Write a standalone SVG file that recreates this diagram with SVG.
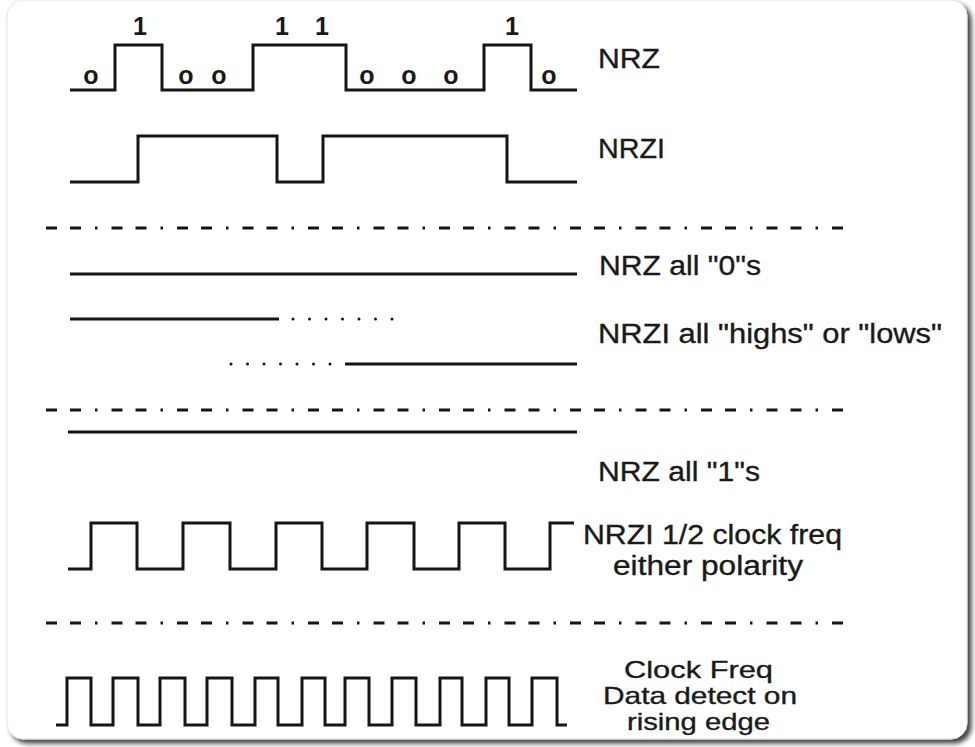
<svg xmlns="http://www.w3.org/2000/svg" width="975" height="747" viewBox="0 0 975 747">
  <defs>
    <filter id="shadow" x="-5%" y="-5%" width="110%" height="110%">
      <feGaussianBlur in="SourceAlpha" stdDeviation="2.5"/>
      <feOffset dx="4" dy="4" result="b"/>
      <feComponentTransfer><feFuncA type="linear" slope="0.75"/></feComponentTransfer>
      <feMerge><feMergeNode/><feMergeNode in="SourceGraphic"/></feMerge>
    </filter>
  </defs>
  <style>
    .wave { fill: none; stroke: #151515; stroke-width: 3; stroke-linejoin: miter; stroke-linecap: butt; }
    .sep { fill: none; stroke: #151515; stroke-width: 3; stroke-dasharray: 11 13 11 14 2.5 14; }
    .dots { fill: none; stroke: #151515; stroke-width: 3; stroke-linecap: round; stroke-dasharray: 0 16.5; }
    .lbl { font-family: "Liberation Sans", Arial, sans-serif; font-size: 27px; fill: #1a1a1a; stroke: #1a1a1a; stroke-width: 0.35; }
    .sm { font-size: 24px; }
    .bit { font-family: "Liberation Sans", Arial, sans-serif; font-size: 25px; font-weight: bold; fill: #1a1a1a; text-anchor: middle; }
  </style>
  <rect x="0" y="0" width="975" height="747" fill="#ffffff"/>
  <rect id="card" x="7" y="0" width="960" height="739" rx="16" fill="#ffffff" stroke="#e4e4e4" stroke-width="1" filter="url(#shadow)"/>

  <g id="nrz">
    <path class="wave" d="M70,90 H115 V45 H162 V90 H253 V45 H346 V90 H484 V45 H531 V90 H577"/>
    <text class="bit" x="140" y="35">1</text>
    <text class="bit" x="282" y="35">1</text>
    <text class="bit" x="322" y="35">1</text>
    <text class="bit" x="512" y="35">1</text>
    <text class="bit" x="91" y="84">o</text>
    <text class="bit" x="186" y="84">o</text>
    <text class="bit" x="219" y="84">o</text>
    <text class="bit" x="367" y="84">o</text>
    <text class="bit" x="409" y="84">o</text>
    <text class="bit" x="451" y="84">o</text>
    <text class="bit" x="549" y="84">o</text>
    <text class="lbl" x="598" y="68" textLength="62" lengthAdjust="spacingAndGlyphs">NRZ</text>
  </g>

  <g id="nrzi">
    <path class="wave" d="M70,182 H138 V136 H277 V182 H323 V136 H507 V182 H577"/>
    <text class="lbl" x="598" y="158" textLength="67" lengthAdjust="spacingAndGlyphs">NRZI</text>
  </g>

  <g id="nrz-all-zeros">
    <path class="wave" d="M70,274 H577"/>
    <text class="lbl" x="599" y="275" textLength="162" lengthAdjust="spacingAndGlyphs">NRZ all "0"s</text>
  </g>

  <g id="nrzi-highs-lows">
    <path class="wave" d="M70,319 H279"/>
    <path class="dots" d="M293,319 H393"/>
    <path class="dots" d="M231,364 H331"/>
    <path class="wave" d="M345,364 H577"/>
    <text class="lbl" x="598" y="343" textLength="344" lengthAdjust="spacingAndGlyphs">NRZI all "highs" or "lows"</text>
  </g>

  <g id="nrz-all-ones">
    <path class="wave" d="M68,432 H577"/>
    <text class="lbl" x="598" y="481" textLength="162" lengthAdjust="spacingAndGlyphs">NRZ all "1"s</text>
  </g>

  <g id="nrzi-half-clock">
    <path class="wave" d="M68,569 H91 V523 H137 V569 H183 V523 H230 V569 H276 V523 H322 V569 H367 V523 H414 V569 H459 V523 H505 V569 H550 V523 H574"/>
    <text class="lbl" x="583" y="544" textLength="259" lengthAdjust="spacingAndGlyphs">NRZI 1/2 clock freq</text>
    <text class="lbl" x="613" y="575" textLength="190" lengthAdjust="spacingAndGlyphs">either polarity</text>
  </g>

  <g id="clock">
    <path class="wave" d="M56,725 H67 V678 H91 V725 H113 V678 H138 V725 H160 V678 H185 V725 H207 V678 H232 V725 H255 V678 H278 V725 H302 V678 H325 V725 H345 V678 H369 V725 H392 V678 H416 V725 H440 V678 H462 V725 H486 V678 H509 V725 H532 V678 H557 V725 H567"/>
    <text class="lbl sm" x="624" y="678" textLength="149" lengthAdjust="spacingAndGlyphs">Clock Freq</text>
    <text class="lbl sm" x="603" y="704" textLength="194" lengthAdjust="spacingAndGlyphs">Data detect on</text>
    <text class="lbl sm" x="627" y="730" textLength="143" lengthAdjust="spacingAndGlyphs">rising edge</text>
  </g>

  <g id="connectors">
    <path class="sep" d="M46,228 H844"/>
    <path class="sep" d="M46,410 H844"/>
    <path class="sep" d="M46,623 H844"/>
  </g>
</svg>
